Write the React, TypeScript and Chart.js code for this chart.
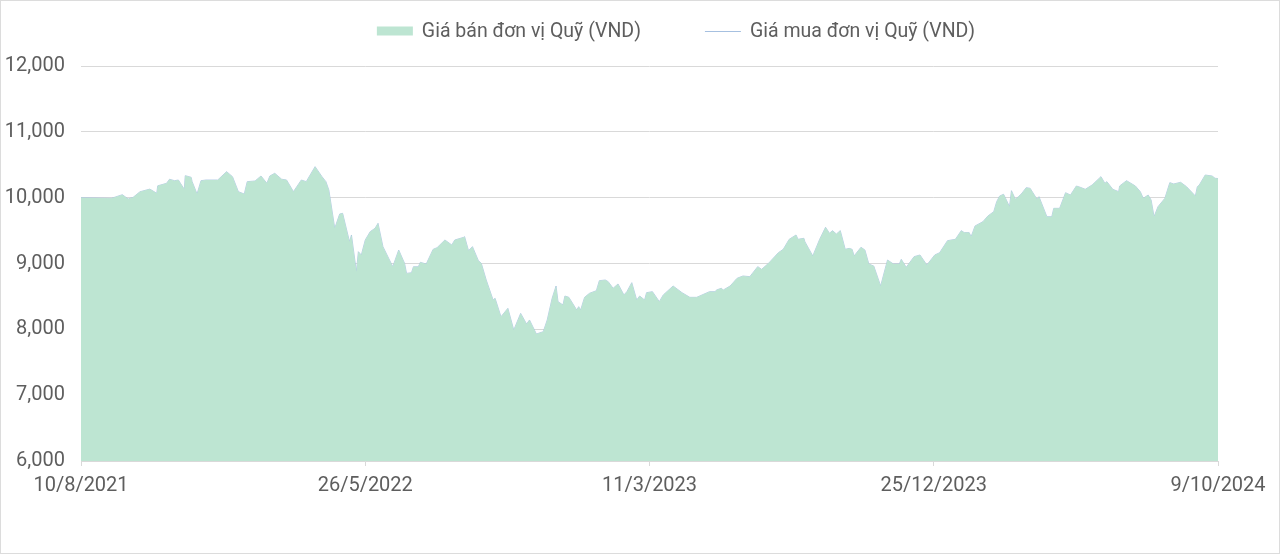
import React, { useEffect, useRef } from "react";
import { Chart, registerables } from "chart.js";

Chart.register(...registerables);

// Days elapsed since the first date (10/8/2021)
const dayOffsets: number[] = [
  0, 31, 42, 48, 53, 60, 70, 77, 78, 87, 90, 95, 99, 105, 106, 112, 113, 118, 122, 127,
  139, 148, 154, 160, 166, 169, 177, 183, 189, 192, 197, 204, 209, 216, 224, 229, 238, 245, 249, 252,
  258, 263, 266, 273, 275, 280, 282, 285, 289, 294, 299, 302, 307, 317, 323, 329, 331, 336, 338, 343,
  345, 351, 358, 362, 370, 377, 380, 389, 390, 394, 398, 404, 407, 412, 419, 421, 427, 434, 440, 447,
  453, 456, 463, 470, 474, 479, 483, 485, 490, 492, 496, 504, 506, 508, 512, 517, 524, 527, 533, 536,
  541, 546, 552, 555, 560, 565, 568, 573, 575, 581, 588, 592, 602, 611, 619, 626, 639, 645, 646, 651,
  653, 660, 667, 673, 680, 688, 692, 699, 709, 714, 720, 727, 729, 735, 736, 744, 751, 757, 761, 764,
  768, 772, 777, 781, 784, 786, 793, 797, 801, 806, 813, 820, 826, 832, 834, 839, 847, 853, 860, 868,
  873, 881, 889, 895, 898, 903, 905, 909, 917, 922, 928, 931, 934, 938, 940, 944, 946, 950, 953, 956,
  961, 965, 972, 974, 982, 987, 989, 995, 1001, 1006, 1012, 1016, 1021, 1028, 1037, 1041, 1043, 1049, 1055, 1056,
  1063, 1072, 1077, 1080, 1085, 1088, 1091, 1095, 1102, 1107, 1111, 1118, 1124, 1133, 1135, 1137, 1143, 1150, 1153, 1156,
];

const sellPrice: number[] = [
  10000, 9990, 10045, 9980, 10005, 10090, 10130, 10066, 10180, 10218, 10280, 10258, 10268, 10127, 10334, 10309, 10243, 10055, 10258, 10268,
  10268, 10395, 10319, 10091, 10055, 10243, 10253, 10329, 10218, 10329, 10370, 10280, 10268, 10091, 10268, 10243, 10471, 10319, 10243, 10116,
  9535, 9752, 9762, 9331, 9433, 8875, 9179, 9129, 9357, 9483, 9535, 9610, 9255, 8951, 9205, 9002, 8850, 8860, 8951, 8951,
  9018, 8992, 9215, 9240, 9357, 9281, 9357, 9397, 9408, 9195, 9256, 9043, 9003, 8749, 8445, 8471, 8191, 8319, 7990, 8242,
  8081, 8142, 7929, 7964, 8142, 8471, 8658, 8420, 8370, 8506, 8486, 8293, 8344, 8293, 8486, 8547, 8587, 8739, 8749, 8724,
  8623, 8689, 8522, 8572, 8709, 8445, 8506, 8445, 8557, 8572, 8420, 8522, 8658, 8557, 8486, 8486, 8572, 8572, 8597, 8623,
  8597, 8658, 8775, 8810, 8800, 8952, 8911, 9002, 9164, 9215, 9367, 9433, 9367, 9383, 9331, 9114, 9367, 9550, 9459, 9499,
  9448, 9499, 9215, 9230, 9215, 9114, 9246, 9205, 8992, 8962, 8658, 9053, 8992, 8992, 9063, 8942, 9104, 9129, 8977, 9129,
  9164, 9347, 9367, 9499, 9469, 9469, 9408, 9570, 9635, 9721, 9787, 9939, 10025, 10051, 9990, 9863, 10106, 9975, 10015, 10055,
  10152, 10142, 9975, 10015, 9711, 9711, 9838, 9838, 10075, 10040, 10177, 10157, 10127, 10192, 10319, 10218, 10243, 10127, 10091, 10177,
  10258, 10177, 10091, 9990, 10040, 9964, 9711, 9863, 9990, 10228, 10208, 10233, 10167, 10025, 10167, 10192, 10344, 10329, 10294, 10290,
];

const buyPrice: number[] = sellPrice.slice();

const seriesNames: string[] = ["Giá bán đơn vị Quỹ (VND)", "Giá mua đơn vị Quỹ (VND)"];
const startDate: [number, number, number] = [2021, 7, 10];
const totalDays = 1156;
const xTickStep = 289;
const yMin = 6000;
const yMax = 12000;
const yStep = 1000;

const FILL = "#bde5d2";
const LINE = "#a6c0e0";
const TEXT = "#5e5e5e";
const GRID = "#d9d9d9";
const FONT = "Roboto";

function dayLabel(offset: number): string {
  const d = new Date(startDate[0], startDate[1], startDate[2] + Math.round(offset));
  return `${d.getDate()}/${d.getMonth() + 1}/${d.getFullYear()}`;
}

// Legend drawn by a small Chart.js plugin so spacing matches the reference
const legendPlugin = {
  id: "customLegend",
  afterDraw(chart: any) {
    const ctx = chart.ctx as CanvasRenderingContext2D;
    const centerX = 675;
    const y = 30;
    const swatchW = 36;
    const swatchH = 9;
    const textGap = 9;
    const itemGap = 64;
    ctx.save();
    ctx.font = `19.5px ${FONT}`;
    ctx.textBaseline = "middle";
    ctx.textAlign = "left";
    const w0 = ctx.measureText(seriesNames[0]).width;
    const w1 = ctx.measureText(seriesNames[1]).width;
    const total = swatchW + textGap + w0 + itemGap + swatchW + textGap + w1;
    let x = centerX - total / 2;
    ctx.fillStyle = FILL;
    ctx.fillRect(x, y - swatchH / 2, swatchW, swatchH);
    x += swatchW + textGap;
    ctx.fillStyle = TEXT;
    ctx.fillText(seriesNames[0], x, y + 1);
    x += w0 + itemGap;
    ctx.strokeStyle = LINE;
    ctx.lineWidth = 1;
    ctx.beginPath();
    ctx.moveTo(x, y + 0.5);
    ctx.lineTo(x + swatchW, y + 0.5);
    ctx.stroke();
    x += swatchW + textGap;
    ctx.fillStyle = TEXT;
    ctx.fillText(seriesNames[1], x, y + 1);
    ctx.restore();
  },
};

export default function App() {
  const ref = useRef<HTMLCanvasElement | null>(null);

  useEffect(() => {
    document.body.style.margin = "0";
    const canvas = ref.current;
    if (!canvas) return;
    const sellPts = dayOffsets.map((x, i) => ({ x, y: sellPrice[i] }));
    const buyPts = dayOffsets.map((x, i) => ({ x, y: buyPrice[i] }));
    const chart = new Chart(canvas, {
      type: "line",
      data: {
        datasets: [
          {
            label: seriesNames[0],
            data: sellPts,
            backgroundColor: FILL,
            borderColor: FILL,
            borderWidth: 0,
            fill: "start",
            pointRadius: 0,
            tension: 0,
          },
          {
            label: seriesNames[1],
            data: buyPts,
            borderColor: LINE,
            backgroundColor: LINE,
            borderWidth: 0.8,
            fill: false,
            pointRadius: 0,
            tension: 0,
          },
        ],
      },
      plugins: [legendPlugin],
      options: {
        animation: false,
        responsive: false,
        maintainAspectRatio: false,
        layout: { padding: { top: 65, right: 61, bottom: 0, left: 0 } },
        plugins: {
          tooltip: { enabled: false },
          legend: { display: false },
        },
        scales: {
          x: {
            type: "linear",
            min: 0,
            max: totalDays,
            afterFit: (scale: any) => {
              scale.height = 92;
            },
            afterBuildTicks: (scale: any) => {
              const t = [];
              for (let v = 0; v <= totalDays; v += xTickStep) t.push({ value: v });
              scale.ticks = t;
            },
            ticks: {
              color: TEXT,
              font: { family: FONT, size: 20 },
              padding: 8,
              maxRotation: 0,
              autoSkip: false,
              callback: (v: any) => dayLabel(Number(v)),
            },
            grid: {
              drawOnChartArea: false,
              drawTicks: true,
              tickLength: 5,
              color: GRID,
            },
            border: { display: true, color: GRID },
          },
          y: {
            min: yMin,
            max: yMax,
            afterFit: (scale: any) => {
              scale.width = 80;
            },
            ticks: {
              stepSize: yStep,
              color: TEXT,
              font: { family: FONT, size: 20 },
              padding: 16,
              callback: (v: any) => Number(v).toLocaleString("en-US"),
            },
            grid: { color: GRID, drawTicks: false },
            border: { display: false },
          },
        },
      },
    });
    return () => chart.destroy();
  }, []);

  return (
    <div
      style={{
        width: 1278,
        height: 552,
        border: "1px solid #dcdcdc",
        background: "#fff",
      }}
    >
      <canvas ref={ref} width={1278} height={552} style={{ display: "block" }} />
    </div>
  );
}
